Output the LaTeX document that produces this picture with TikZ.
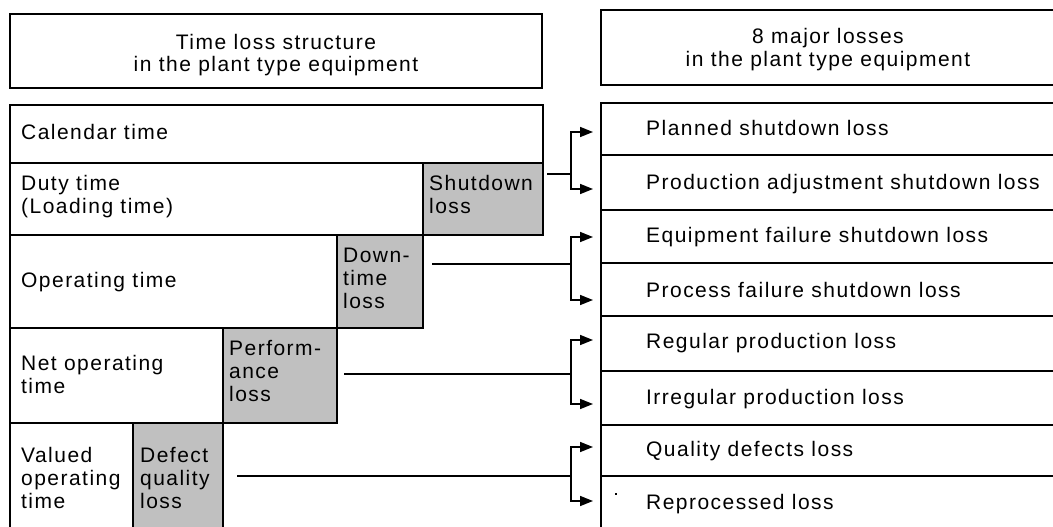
\documentclass[tikz,border=0pt]{standalone}
\usepackage{fontspec}
\setmainfont{Liberation Sans}[LetterSpace=7]
\usetikzlibrary{arrows.meta}
\definecolor{lossgray}{RGB}{192,192,192}
\begin{document}
\begin{tikzpicture}[x=1pt,y=-1pt,
  box/.style={draw=black, line width=1.6pt, rectangle, inner sep=0pt, outer sep=0pt, anchor=north west},
  lossbox/.style={box, fill=lossgray},
  txt/.style={inner sep=0pt, anchor=north west, align=left, font=\fontsize{21}{23}\selectfont},
  ttl/.style={inner sep=0pt, anchor=north, align=center, font=\fontsize{21}{22.5}\selectfont},
  conn/.style={line width=1.6pt},
  arr/.style={conn, -{Triangle[length=13pt,width=10pt]}}]
\useasboundingbox (0,0) rectangle (1053,527);
\clip (0,0) rectangle (1053,527);
\fill[white] (0,0) rectangle (1053,527);

% title boxes
\node[box, minimum width=532pt, minimum height=74pt] (lt) at (10,14) {};
\node[ttl] (ltt) at (276,34) {Time loss structure\\in the plant type equipment};
\node[box, minimum width=456pt, minimum height=75pt] (rt) at (601,10) {};
\node[ttl] (rtt) at (828,28.5) {8 major losses\\in the plant type equipment};

% left time structure rows
\node[box, minimum width=533pt, minimum height=58pt] (cal) at (10,105) {};
\node[box, minimum width=533pt, minimum height=72pt] (duty) at (10,163) {};
\node[box, minimum width=413pt, minimum height=93pt] (op) at (10,235) {};
\node[box, minimum width=327pt, minimum height=95pt] (net) at (10,328) {};
\node[box, minimum width=213pt, minimum height=110pt] (val) at (10,423) {};

% loss boxes
\node[lossbox, minimum width=120pt, minimum height=72pt] (sd) at (423,163) {};
\node[lossbox, minimum width=86pt, minimum height=93pt] (dt) at (337,235) {};
\node[lossbox, minimum width=114pt, minimum height=95pt] (pf) at (223,328) {};
\node[lossbox, minimum width=90pt, minimum height=110pt] (dq) at (133,423) {};

% left labels
\node[txt] (calt) at (21,124) {Calendar time};
\node[txt] (dutyt) at (21,175) {Duty time\\(Loading time)};
\node[txt] (opt) at (21,272) {Operating time};
\node[txt] (nett) at (21,355) {Net operating\\time};
\node[txt] (valt) at (21,447) {Valued\\operating\\time};
\node[txt] (sdt) at (429,175) {Shutdown\\loss};
\node[txt] (dtt) at (343,248) {Down-\\time\\loss};
\node[txt] (pft) at (229,340) {Perform-\\ance\\loss};
\node[txt] (dqt) at (140,447) {Defect\\quality\\loss};

% right list rows
\node[box, minimum width=460pt, minimum height=52pt] (r1) at (601,103) {};
\node[box, minimum width=460pt, minimum height=55pt] (r2) at (601,155) {};
\node[box, minimum width=460pt, minimum height=53pt] (r3) at (601,210) {};
\node[box, minimum width=460pt, minimum height=53pt] (r4) at (601,263) {};
\node[box, minimum width=460pt, minimum height=55pt] (r5) at (601,316) {};
\node[box, minimum width=460pt, minimum height=54pt] (r6) at (601,371) {};
\node[box, minimum width=460pt, minimum height=51pt] (r7) at (601,425) {};
\node[box, minimum width=460pt, minimum height=60pt] (r8) at (601,476) {};

\node[txt] (r1t) at (646,120.5) {Planned shutdown loss};
\node[txt] (r2t) at (646,174.5) {Production adjustment shutdown loss};
\node[txt] (r3t) at (646,227.5) {Equipment failure shutdown loss};
\node[txt] (r4t) at (646,282.5) {Process failure shutdown loss};
\node[txt] (r5t) at (646,333.5) {Regular production loss};
\node[txt] (r6t) at (646,389.5) {Irregular production loss};
\node[txt] (r7t) at (646,441.5) {Quality defects loss};
\node[txt] (r8t) at (646,494.5) {Reprocessed loss};

% stray dot
\fill (615,493) rectangle (617,495);

% connectors
\coordinate (f1) at (571,174);
\coordinate (f2) at (571,264);
\coordinate (f3) at (571,374);
\coordinate (f4) at (571,476);
\coordinate (a1) at (593,132);
\coordinate (a2) at (593,189);
\coordinate (a3) at (593,237);
\coordinate (a4) at (593,300);
\coordinate (a5) at (593,340);
\coordinate (a6) at (593,404);
\coordinate (a7) at (593,447);
\coordinate (a8) at (593,501);

\draw[conn] ([xshift=4pt]sd.east |- f1) -- (f1);
\draw[conn] ([xshift=9pt]dt.east |- f2) -- (f2);
\draw[conn] ([xshift=7pt]pf.east |- f3) -- (f3);
\draw[conn] ([xshift=14pt]dq.east |- f4) -- (f4);

\draw[arr] (f1) |- (a1);
\draw[arr] (f1) |- (a2);
\draw[arr] (f2) |- (a3);
\draw[arr] (f2) |- (a4);
\draw[arr] (f3) |- (a5);
\draw[arr] (f3) |- (a6);
\draw[arr] (f4) |- (a7);
\draw[arr] (f4) |- (a8);
\end{tikzpicture}
\end{document}
